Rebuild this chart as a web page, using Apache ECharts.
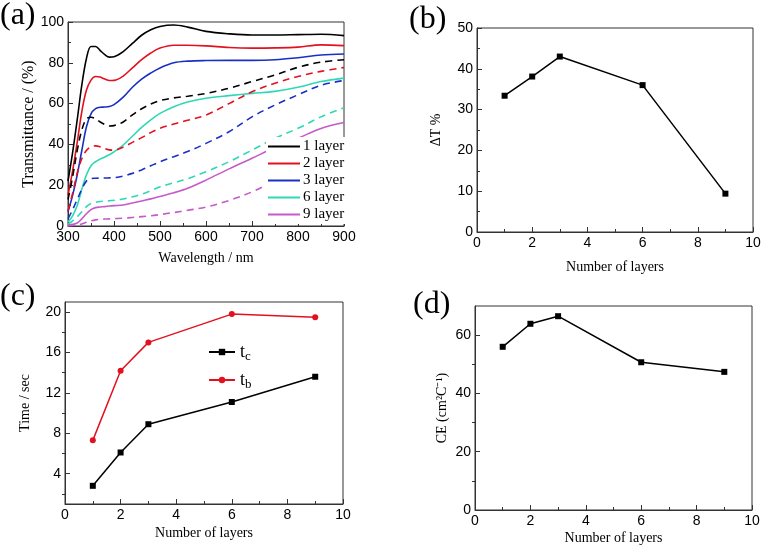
<!DOCTYPE html>
<html>
<head>
<meta charset="utf-8">
<script src="https://cdn.jsdelivr.net/npm/echarts@6/dist/echarts.min.js"></script>
<style>
html,body{margin:0;padding:0;background:#fff;}
#c{width:764px;height:549px;}
</style>
</head>
<body>
<div id="c"></div>
<script>
// ---------- Panel (a): transmittance spectra ----------
const wavelengths = [300,310,320,330,340,350,360,370,380,390,400,420,440,460,480,500,530,560,600,650,700,750,800,850,900];
const solid1 = [22,36,52,69,82,88,88,86,84,82.8,83,85.5,89.5,93.5,96.2,97.8,98.5,97.5,95.4,94.2,93.6,93.6,93.8,94,93.3];
const solid2 = [15,27,41,56,66.5,71.5,73.3,73,72,71.3,71.4,73.5,77.5,81.5,84.8,87.2,88.6,88.6,88.3,87.5,87.2,87.3,87.7,88.8,88.4];
const solid3 = [7,15,25,37,48.5,55,57.5,58.2,58.3,58.6,59.5,63.2,68,72,75,77.5,80,80.8,81.1,81.2,81.2,81.5,82.5,83.8,84.3];
const solid6 = [2,5,10,18,25,29.5,31.5,32.8,33.8,35,36.3,39.7,44,48.3,52,55.2,58.5,60.8,62.6,63.9,65,66,68,70.8,72.5];
const solid9 = [0.5,0.8,1.5,3.5,6,8,9,9.3,9.5,9.8,10,10.3,11.3,12.3,13.3,14.5,16.3,18.5,22.5,28,33.2,38.5,43,47.8,50.7];
const dash1 = [13,24,37,47,52.5,53.3,52.5,51,49.8,49,49.2,51,54.5,57.5,59.8,61.5,62.8,63.6,65,67.5,70.8,74,77.8,80.3,81.5];
const dash2 = [7.5,16,26,33,37,38.8,39.3,38.8,38,37.3,37.2,38.7,41,43.3,45.8,47.9,50,51.8,54.4,60,65.8,70,73.3,75.8,77.7];
const dash3 = [3.5,8,13,18,22,23.2,23.4,23.5,23.5,23.6,23.7,24.5,25.8,27.5,29.5,31.5,34,36.5,40.5,46.2,53.5,59.3,64.3,69,71.3];
const dash6 = [1,2.5,4.5,7,9.5,11,11.6,12,12.2,12.4,12.6,13.2,14.3,15.6,17.3,19.2,21.2,23.2,26.6,31.5,37.2,43,47.9,53.5,58];
const dash9 = [0,0.3,0.6,1,1.8,2.5,3,3.3,3.4,3.5,3.6,3.8,4.2,4.6,5,5.6,6.6,7.7,9.3,12.5,16.7,22.3,27.4,33.8,39];
const layerNames = ['1 layer','2 layer','3 layer','6 layer','9 layer'];

// ---------- Panels (b)-(d) ----------
const layers = [1,2,3,6,9];
const deltaT = [33.4,38.1,43.0,36.0,9.4];
const tc = [2.8,6.1,8.9,11.1,13.6];
const tb = [7.3,14.2,17.0,19.8,19.5];
const ce = [56.0,63.9,66.5,50.7,47.4];

const colors = ['#000000','#e3111f','#1a2fc4','#2fd8b4','#c55ac9'];
const serif = 'Liberation Serif';
const sans = 'Liberation Sans';
const axisColor = '#333';

function pairs(xs, ys){ return xs.map((x,i)=>[x, ys[i]]); }

function xAx(gi, min, max, interval, name, gap){
  return {
    type:'value', gridIndex:gi, min:min, max:max, interval:interval,
    name:name, nameLocation:'middle', nameGap:gap,
    nameTextStyle:{fontFamily:serif, fontSize:14, color:'#000'},
    axisLine:{show:true, onZero:false, lineStyle:{color:axisColor, width:1}},
    axisTick:{show:true, inside:true, length:5, lineStyle:{color:axisColor}},
    minorTick:{show:true, splitNumber:2, length:3, lineStyle:{color:axisColor}},
    axisLabel:{fontFamily:sans, fontSize:14, color:'#000', margin:4},
    splitLine:{show:false}, minorSplitLine:{show:false}
  };
}
function yAx(gi, min, max, interval, name, gap){
  const a = xAx(gi, min, max, interval, name, gap);
  a.axisLabel.margin = 4;
  return a;
}

const xAxes = [
  xAx(0,300,900,100,'Wavelength / nm',25),
  xAx(1,0,10,2,'Number of layers',28),
  xAx(2,0,10,2,'Number of layers',22),
  xAx(3,0,10,2,'Number of layers',21)
];
const yA = yAx(0,0,100,20,'Transmittance / (%)',27);
yA.nameTextStyle.fontSize = 16;
const yB = yAx(1,0,50,10,'ΔT %',34);
const yC = yAx(2,1,21,null,'Time / sec',33);
delete yC.interval;
yC.axisLabel.customValues = [4,8,12,16,20];
yC.axisTick.customValues = [4,8,12,16,20];
yC.minorTick = {show:false};
const yCminor = {type:'value', gridIndex:2, min:1, max:21, axisLine:{show:false},
  axisLabel:{show:false}, splitLine:{show:false},
  axisTick:{show:true, inside:true, length:3, customValues:[2,6,10,14,18], lineStyle:{color:axisColor}}};
const yD = yAx(3,0,70,null,'CE (cm²C⁻¹)',26);
delete yD.interval;
yD.axisLabel.customValues = [0,20,40,60];
yD.axisTick.customValues = [0,20,40,60];
yD.minorTick = {show:false};
const yDminor = {type:'value', gridIndex:3, min:0, max:70, axisLine:{show:false},
  axisLabel:{show:false}, splitLine:{show:false},
  axisTick:{show:true, inside:true, length:3, customValues:[10,30,50], lineStyle:{color:axisColor}}};

const series = [];
const solids = [solid1,solid2,solid3,solid6,solid9];
const dashes = [dash1,dash2,dash3,dash6,dash9];
solids.forEach((arr,i)=>{
  series.push({type:'line', name:layerNames[i], xAxisIndex:0, yAxisIndex:0,
    data:pairs(wavelengths, arr), smooth:0.35, showSymbol:false, symbol:'none',
    lineStyle:{color:colors[i], width:1.6}, itemStyle:{color:colors[i]}});
});
dashes.forEach((arr,i)=>{
  series.push({type:'line', name:layerNames[i]+' (dashed)', xAxisIndex:0, yAxisIndex:0,
    data:pairs(wavelengths, arr), smooth:0.35, showSymbol:false, symbol:'none',
    lineStyle:{color:colors[i], width:1.6, type:[7,5]}, itemStyle:{color:colors[i]}});
});
series.push({type:'line', name:'ΔT', xAxisIndex:1, yAxisIndex:1, data:pairs(layers, deltaT),
  symbol:'rect', symbolSize:6, lineStyle:{color:'#000', width:1.5}, itemStyle:{color:'#000'}});
series.push({type:'line', name:'tc', xAxisIndex:2, yAxisIndex:2, data:pairs(layers, tc),
  symbol:'rect', symbolSize:6, lineStyle:{color:'#000', width:1.5}, itemStyle:{color:'#000'}});
series.push({type:'line', name:'tb', xAxisIndex:2, yAxisIndex:2, data:pairs(layers, tb),
  symbol:'circle', symbolSize:6, lineStyle:{color:'#e3111f', width:1.5}, itemStyle:{color:'#e3111f'}});
series.push({type:'line', name:'CE', xAxisIndex:3, yAxisIndex:4, data:pairs(layers, ce),
  symbol:'rect', symbolSize:6, lineStyle:{color:'#000', width:1.5}, itemStyle:{color:'#000'}});

const gridBase = {show:true, borderColor:axisColor, borderWidth:1, backgroundColor:'transparent', containLabel:false, outerBoundsMode:'none'};
const option = {
  animation:false,
  backgroundColor:'#fff',
  grid:[
    Object.assign({left:68, top:22, width:276, height:204}, gridBase),
    Object.assign({left:477, top:28, width:276, height:204}, gridBase),
    Object.assign({left:65, top:302, width:278, height:202}, gridBase),
    Object.assign({left:475, top:306, width:277, height:204}, gridBase)
  ],
  xAxis: xAxes,
  yAxis: [yA, yB, yC, yCminor, yD, yDminor],
  legend:[
    {data:layerNames, orient:'vertical', left:266, top:137, itemGap:2, itemWidth:32, itemHeight:2,
     icon:'rect', backgroundColor:'#fff', padding:[2,4,2,2], selectedMode:false,
     textStyle:{fontFamily:serif, fontSize:15, lineHeight:15, color:'#000', padding:[0,0,0,-2]}},
    {data:['tc','tb'], orient:'vertical', left:203, top:338, itemGap:8, itemWidth:26, itemHeight:8,
     selectedMode:false,
     formatter:function(n){ return n==='tc' ? '{m|t}{s|c}' : '{m|t}{s|b}'; },
     textStyle:{color:'#000', rich:{m:{fontFamily:serif, fontSize:18, color:'#000'}, s:{fontFamily:serif, fontSize:13, color:'#000', padding:[9,0,0,0]}}}}
  ],
  graphic:[
    {type:'text', left:0, top:0, style:{text:'(a)', font:'32px "Liberation Serif"', fill:'#000'}},
    {type:'text', left:409, top:4, style:{text:'(b)', font:'32px "Liberation Serif"', fill:'#000'}},
    {type:'text', left:0, top:281, style:{text:'(c)', font:'32px "Liberation Serif"', fill:'#000'}},
    {type:'text', left:413, top:289, style:{text:'(d)', font:'32px "Liberation Serif"', fill:'#000'}}
  ],
  series: series
};
const chart = echarts.init(document.getElementById('c'), null, {renderer:'canvas'});
chart.setOption(option);
</script>
</body>
</html>
